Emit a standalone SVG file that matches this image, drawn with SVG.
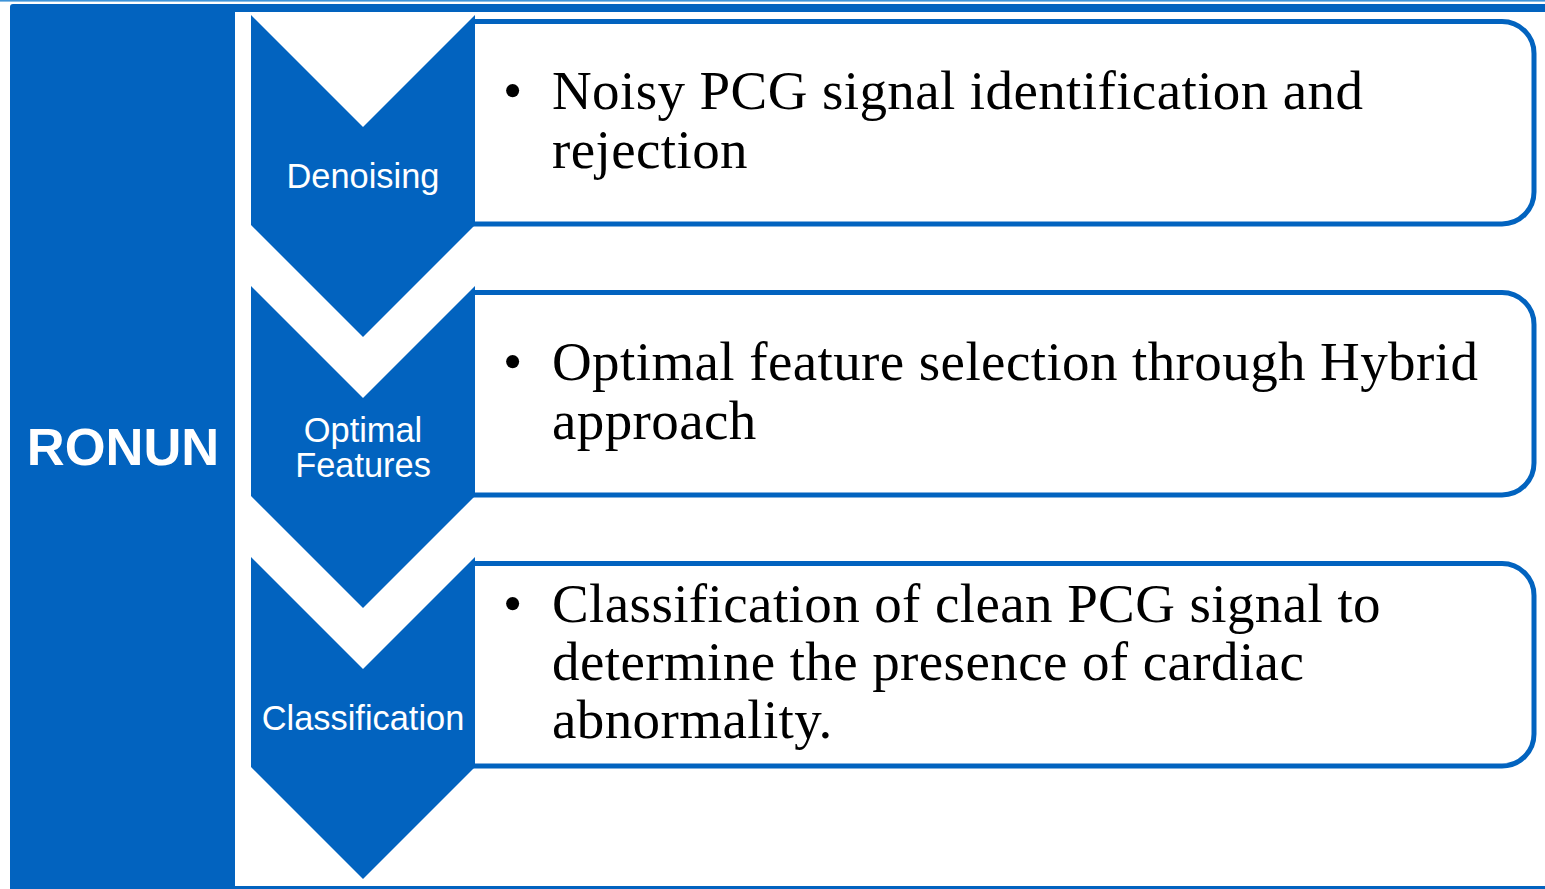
<svg xmlns="http://www.w3.org/2000/svg" width="1545" height="889" viewBox="0 0 1545 889">
  <style>
    .blue { fill: #0263BF; }
    .box { fill: #FFFFFF; stroke: #0263BF; stroke-width: 5; }
    .lbl { font-family: "Liberation Sans", Arial, sans-serif; font-size: 34.4px; fill: #FFFFFF; text-anchor: middle; }
    .title { font-family: "Liberation Sans", Arial, sans-serif; font-size: 52.5px; font-weight: bold; fill: #FFFFFF; text-anchor: middle; }
    .body { font-family: "Liberation Serif", "Times New Roman", serif; font-size: 55px; letter-spacing: 0.4px; fill: #000000; }
  </style>
  <rect width="1545" height="889" fill="#FFFFFF"/>
  <g id="frame">
    <rect x="0" y="0" width="1545" height="1.6" fill="#3E93D8"/>
    <rect class="blue" x="10" y="4" width="1560" height="900" rx="3"/>
    <rect x="235" y="12" width="1330" height="874" fill="#FFFFFF"/>
    <text class="title" x="123" y="465">RONUN</text>
  </g>
  <g id="stage-denoising">
    <path class="box" d="M472,21.5 H1502 A32,32 0 0 1 1534,53.5 V192 A32,32 0 0 1 1502,224 H472"/>
    <polygon class="blue" points="251,15 363,127 475,15 475,225 363,337 251,225"/>
    <text class="lbl" x="363" y="188">Denoising</text>
    <text class="body" x="503" y="109">•</text>
    <text class="body" x="552" y="109">Noisy PCG signal identification and</text>
    <text class="body" x="552" y="168">rejection</text>
  </g>
  <g id="stage-optimal-features">
    <path class="box" d="M472,292.5 H1502 A32,32 0 0 1 1534,324.5 V463 A32,32 0 0 1 1502,495 H472"/>
    <polygon class="blue" points="251,286 363,398 475,286 475,496 363,608 251,496"/>
    <text class="lbl" x="363" y="442">Optimal</text>
    <text class="lbl" x="363" y="477">Features</text>
    <text class="body" x="503" y="380">•</text>
    <text class="body" x="552" y="380">Optimal feature selection through Hybrid</text>
    <text class="body" x="552" y="439">approach</text>
  </g>
  <g id="stage-classification">
    <path class="box" d="M472,563.5 H1502 A32,32 0 0 1 1534,595.5 V734 A32,32 0 0 1 1502,766 H472"/>
    <polygon class="blue" points="251,557 363,669 475,557 475,767 363,879 251,767"/>
    <text class="lbl" x="363" y="730">Classification</text>
    <text class="body" x="503" y="622">•</text>
    <text class="body" x="552" y="622">Classification of clean PCG signal to</text>
    <text class="body" x="552" y="680">determine the presence of cardiac</text>
    <text class="body" x="552" y="738">abnormality.</text>
  </g>
</svg>
